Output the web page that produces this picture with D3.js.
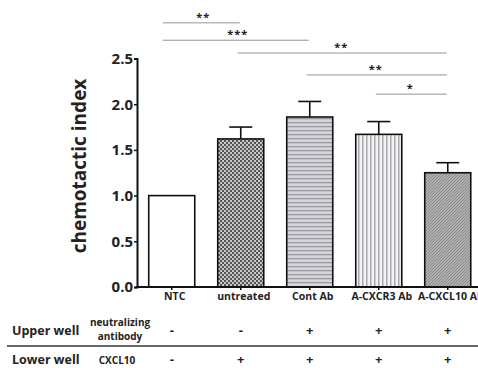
<!DOCTYPE html>
<html>
<head>
<meta charset="utf-8">
<script src="https://cdn.jsdelivr.net/npm/d3@7"></script>
<style>
  body { margin: 0; background: #fff; }
  text { font-family: "Open Sans", "Noto Sans", sans-serif; font-weight: bold; fill: #222; }
</style>
</head>
<body>
<div class="js-board"></div>
<script>
var categories = ['NTC', 'untreated', 'Cont Ab', 'A-CXCR3 Ab', 'A-CXCL10 Ab'];
var means = [1.0, 1.62, 1.86, 1.67, 1.25];
var errors = [0, 0.13, 0.17, 0.14, 0.11];
var fills = ['#fff', 'url(#checker)', 'url(#hlines)', 'url(#vlines)', 'url(#diag)'];
var yTicks = [0, 0.5, 1.0, 1.5, 2.0, 2.5];

// significance brackets: from index, to index, level (data units), stars
var sigFrom = [0, 0, 1, 2, 3];
var sigTo = [1, 2, 4, 4, 4];
var sigLevel = [2.89, 2.70, 2.56, 2.32, 2.11];
var sigStars = ['**', '***', '**', '**', '*'];

var upperSigns = ['-', '-', '+', '+', '+'];
var lowerSigns = ['-', '+', '+', '+', '+'];

var svg = d3.select('.js-board')
  .append('svg')
  .attr('width', 478)
  .attr('height', 368);

var defs = svg.append('defs');

var p = defs.append('pattern').attr('id', 'checker')
  .attr('patternUnits', 'userSpaceOnUse').attr('width', 4).attr('height', 4);
p.append('rect').attr('width', 4).attr('height', 4).attr('fill', '#c8c8c8');
p.append('rect').attr('width', 2).attr('height', 2).attr('fill', '#555');
p.append('rect').attr('x', 2).attr('y', 2).attr('width', 2).attr('height', 2).attr('fill', '#555');

p = defs.append('pattern').attr('id', 'hlines')
  .attr('patternUnits', 'userSpaceOnUse').attr('width', 4).attr('height', 4);
p.append('rect').attr('width', 4).attr('height', 4).attr('fill', '#d6d6da');
p.append('rect').attr('y', 2).attr('width', 4).attr('height', 1.3).attr('fill', '#9a9aa2');

p = defs.append('pattern').attr('id', 'vlines')
  .attr('patternUnits', 'userSpaceOnUse').attr('width', 4).attr('height', 4);
p.append('rect').attr('width', 4).attr('height', 4).attr('fill', '#f2f2f2');
p.append('rect').attr('x', 2).attr('width', 1.5).attr('height', 4).attr('fill', '#a8a8ae');

p = defs.append('pattern').attr('id', 'diag')
  .attr('patternUnits', 'userSpaceOnUse').attr('width', 3).attr('height', 3);
p.append('rect').attr('width', 3).attr('height', 3).attr('fill', '#b0b0b0');
p.append('path').attr('d', 'M0,3 L3,0').attr('stroke', '#888').attr('stroke-width', 1);

var x = d3.scaleBand()
  .domain(categories)
  .range([137, 482.5])
  .paddingInner(0.333)
  .paddingOuter(0.17);

var y = d3.scaleLinear()
  .domain([0, 2.5])
  .range([287, 58.5]);

function cx(i) { return x(categories[i]) + x.bandwidth() / 2; }

var idx = d3.range(categories.length);

// bars
svg.selectAll('.bar')
  .data(idx)
  .enter()
  .append('rect')
  .classed('bar', true)
  .attr('x', function(i) { return x(categories[i]); })
  .attr('y', function(i) { return y(means[i]); })
  .attr('width', x.bandwidth())
  .attr('height', function(i) { return y(0) - y(means[i]); })
  .attr('fill', function(i) { return fills[i]; })
  .attr('stroke', '#111')
  .attr('stroke-width', 1.6);

// error bars (upper only)
var errs = svg.selectAll('.err')
  .data(idx.filter(function(i) { return errors[i] > 0; }))
  .enter()
  .append('g')
  .classed('err', true);

errs.append('line')
  .attr('x1', function(i) { return cx(i); })
  .attr('x2', function(i) { return cx(i); })
  .attr('y1', function(i) { return y(means[i]); })
  .attr('y2', function(i) { return y(means[i] + errors[i]); })
  .attr('stroke', '#111').attr('stroke-width', 1.6);

errs.append('line')
  .attr('x1', function(i) { return cx(i) - 11.5; })
  .attr('x2', function(i) { return cx(i) + 11.5; })
  .attr('y1', function(i) { return y(means[i] + errors[i]); })
  .attr('y2', function(i) { return y(means[i] + errors[i]); })
  .attr('stroke', '#111').attr('stroke-width', 1.6);

// y axis
var yAxis = svg.append('g')
  .attr('transform', 'translate(137,0)')
  .call(d3.axisLeft(y).tickValues(yTicks).tickFormat(d3.format('.1f')).tickSize(3));
yAxis.select('.domain').attr('stroke', '#111').attr('stroke-width', 2);
yAxis.selectAll('.tick line').attr('stroke', '#111').attr('stroke-width', 1.5);
yAxis.selectAll('.tick text')
  .attr('x', -4)
  .style('font-size', '15px')
  .style('font-family', '"Open Sans", sans-serif')
  .style('font-weight', 'bold')
  .attr('fill', '#222');

// x axis
var xAxis = svg.append('g')
  .attr('transform', 'translate(0,287)')
  .call(d3.axisBottom(x).tickSize(3).tickSizeOuter(0));
xAxis.select('.domain').attr('stroke', '#111').attr('stroke-width', 2)
  .attr('d', 'M136,0H478');
xAxis.selectAll('.tick line').attr('stroke', '#111').attr('stroke-width', 1.5);
xAxis.selectAll('.tick text')
  .attr('y', 6)
  .attr('dx', 3)
  .style('font-size', '10.5px')
  .style('font-family', '"Open Sans", sans-serif')
  .style('font-weight', 'bold')
  .attr('fill', '#333');

// y label
svg.append('text')
  .attr('transform', 'translate(86,166) rotate(-90)')
  .attr('text-anchor', 'middle')
  .style('font-size', '19px')
  .text('chemotactic index');

// significance lines
svg.selectAll('.sig')
  .data(sigStars)
  .enter()
  .append('line')
  .classed('sig', true)
  .attr('x1', function(d, i) { return cx(sigFrom[i]) - (sigFrom[i] === 0 ? 9 : 3); })
  .attr('x2', function(d, i) { return cx(sigTo[i]) - 1; })
  .attr('y1', function(d, i) { return y(sigLevel[i]); })
  .attr('y2', function(d, i) { return y(sigLevel[i]); })
  .attr('stroke', '#888')
  .attr('stroke-width', 0.9);

svg.selectAll('.stars')
  .data(sigStars)
  .enter()
  .append('text')
  .classed('stars', true)
  .attr('x', function(d, i) { return (cx(sigFrom[i]) + cx(sigTo[i])) / 2 - 3; })
  .attr('y', function(d, i) { return y(sigLevel[i]) - 2; })
  .attr('text-anchor', 'middle')
  .style('font-size', '11px')
  .style('letter-spacing', '1px')
  .attr('fill', '#444')
  .text(function(d) { return d; });

// condition table
svg.append('text').attr('x', 12).attr('y', 335).style('font-size', '12.5px').text('Upper well');
svg.append('text').attr('x', 120).attr('y', 326).attr('text-anchor', 'middle').style('font-size', '10px').text('neutralizing');
svg.append('text').attr('x', 120).attr('y', 340).attr('text-anchor', 'middle').style('font-size', '10px').text('antibody');
svg.append('line').attr('x1', 7).attr('x2', 478).attr('y1', 346).attr('y2', 346)
  .attr('stroke', '#333').attr('stroke-width', 1.4);
svg.append('text').attr('x', 12).attr('y', 364).style('font-size', '12.5px').text('Lower well');
svg.append('text').attr('x', 117).attr('y', 364).attr('text-anchor', 'middle').style('font-size', '10px').text('CXCL10');

svg.selectAll('.upper')
  .data(upperSigns)
  .enter()
  .append('text')
  .classed('upper', true)
  .attr('x', function(d, i) { return cx(i); })
  .attr('y', 335)
  .attr('text-anchor', 'middle')
  .style('font-size', '13px')
  .text(function(d) { return d; });

svg.selectAll('.lower')
  .data(lowerSigns)
  .enter()
  .append('text')
  .classed('lower', true)
  .attr('x', function(d, i) { return cx(i); })
  .attr('y', 364)
  .attr('text-anchor', 'middle')
  .style('font-size', '13px')
  .text(function(d) { return d; });
</script>
</body>
</html>
